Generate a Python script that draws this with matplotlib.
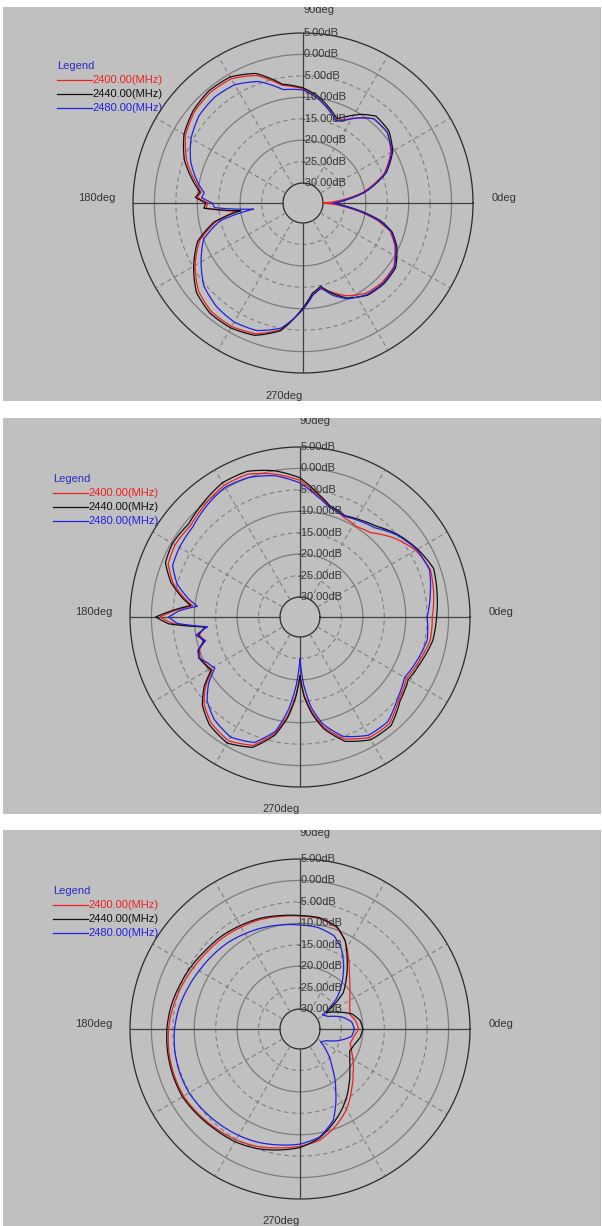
import matplotlib
matplotlib.use("Agg")
import matplotlib.pyplot as plt
import numpy as np

# ---------------------------------------------------------------------------
# Data: gain (dB) vs azimuth (deg), three planes x three frequencies
# ---------------------------------------------------------------------------
freq_labels = ["2400.00(MHz)", "2440.00(MHz)", "2480.00(MHz)"]
ring_levels = [5, 0, -5, -10, -15, -20, -25, -30]
ring_labels = ["5.00dB", "0.00dB", "-5.00dB", "-10.00dB", "-15.00dB",
               "-20.00dB", "-25.00dB", "-30.00dB"]
deg_labels = ["0deg", "90deg", "180deg", "270deg"]

p1_ang = [0, 5, 10, 20, 30, 40, 50, 57, 63, 68, 75, 82, 90, 100, 110, 120,
          130, 140, 150, 160, 170, 174, 177, 180, 183, 187, 192, 200, 210,
          220, 230, 240, 250, 260, 270, 276, 282, 288, 295, 305, 315, 325,
          335, 342, 347, 352, 356]
p1_2400 = [-30, -25, -20.5, -14.5, -11, -9, -9, -11, -12.8, -14, -12, -10,
           -8, -6.8, -3, -1.2, -1, -1.6, -3, -5.8, -9.5, -10.8, -10, -12.5,
           -12, -19, -14, -9, -5.6, -2.8, -1.5, -1.4, -2.2, -4.6, -10.2,
           -13.5, -14.2, -12.8, -10.8, -9, -8.5, -8.8, -11, -13.3, -17, -22,
           -26]
p1_2440 = [-27.5, -24, -20, -14, -10.5, -8.5, -8.2, -10, -12, -13.5, -11.5,
           -9.5, -7.8, -6.5, -2.5, -0.7, -0.5, -1.2, -2.6, -5.2, -9, -10.5,
           -9.5, -12, -11.5, -20, -13.5, -8.5, -5.2, -2.2, -1.0, -1.0, -1.8,
           -4.4, -10.2, -13.5, -14.8, -12.5, -10.2, -8.4, -8.0, -8.3, -10.5,
           -12.8, -16, -21, -25]
p1_2480 = [-27.5, -24, -20, -14.2, -10.8, -9, -9, -11, -13, -14, -12, -10,
           -8.3, -7.8, -4.5, -2.8, -2.5, -3, -4.5, -6.8, -10, -11.5, -11,
           -13.5, -14, -23, -15, -10, -7.2, -4.5, -3.2, -2.6, -3.0, -5.0,
           -9.8, -13, -14.5, -12, -10, -8.6, -8.2, -8.6, -10.8, -13, -16.5,
           -21.5, -25.5]

p2_ang = [0, 10, 20, 30, 40, 50, 58, 66, 75, 82, 90, 100, 110, 120, 130,
          140, 150, 158, 165, 171, 174, 177, 180, 183, 186, 190, 194, 198,
          202, 206, 211, 216, 222, 230, 240, 250, 258, 263, 267, 270, 273,
          277, 282, 290, 300, 310, 320, 330, 340, 350]
p2_2400 = [-3.8, -3, -2.3, -3.5, -6, -9, -9.8, -9.3, -8, -5.8, -2.8, -0.8,
           0.8, 0.8, -0.3, -1.4, -1, -1.5, -4, -7.5, -9.5, -5.5, -2, -5,
           -12.5, -10.8, -11.8, -10, -9.5, -10, -10.8, -7.5, -4.5, -2.4,
           -1.3, -2.8, -7, -11.5, -16.5, -21, -16.5, -12.5, -8.5, -4.4, -2.2,
           -2.2, -4.6, -6, -5, -3.8]
p2_2440 = [-2.8, -2.2, -1.5, -3, -4.8, -7, -8, -8.8, -7.8, -5.5, -2.2, 0,
           1.5, 1.5, 0.3, -0.8, -0.3, -0.8, -3.5, -7, -9, -5, -1, -4, -12.5,
           -10.5, -11.5, -9.8, -9.2, -9.8, -10.5, -7, -4, -1.8, -0.7, -2.3,
           -6.5, -11, -16, -21, -16, -12, -8, -3.8, -1.6, -1.6, -4.2, -5.5,
           -4.5, -3.2]
p2_2480 = [-5, -3.8, -2.5, -3.2, -5, -7.5, -8.3, -9, -8.2, -6.2, -3.4, -1.2,
           0, 0.3, -0.8, -2, -2.2, -2.6, -5, -8.5, -10.6, -6.5, -4, -6, -13,
           -10, -12, -9.6, -9.2, -10.5, -11.5, -8.3, -5.5, -3.5, -2.3, -3.5,
           -7.5, -13, -19, -25, -19, -13.5, -9.2, -5, -2.8, -2.8, -5, -6.5,
           -5.5, -4.5]

p3_ang = [0, 8, 16, 24, 32, 40, 48, 56, 63, 70, 80, 90, 100, 110, 120, 130,
          140, 150, 160, 170, 180, 190, 200, 210, 220, 230, 240, 250, 260,
          270, 280, 290, 300, 310, 320, 328, 336, 344, 352]
p3_2400 = [-21, -21.5, -22.5, -22, -21, -19.5, -17.5, -14.5, -11.5, -9.5,
           -8.5, -8.3, -8, -7.5, -7.2, -6.8, -6.5, -6, -5.3, -4.6, -4, -3.6,
           -3.4, -3.3, -3.8, -4.3, -4.8, -5.5, -6.5, -7.3, -8.3, -10.5, -13,
           -16, -18.5, -20, -21.5, -22.5, -22]
p3_2440 = [-20, -20.5, -22, -25, -27.5, -21.5, -18.5, -15, -11.5, -9.3,
           -8.3, -8.2, -7.8, -7.2, -6.8, -6.3, -6, -5.4, -4.8, -4.1, -3.6,
           -3.3, -3.1, -3, -3.5, -4, -4.3, -5, -6, -7, -8.8, -11.5, -14.2,
           -17, -19.5, -21, -22, -21.5, -20.5]
p3_2480 = [-22, -22.5, -24.5, -27.5, -28.5, -23.5, -20, -16.5, -13.5, -11.5,
           -10.6, -10.4, -10, -9.5, -9, -8.4, -8, -7.5, -6.8, -6, -5.4, -5,
           -4.8, -4.8, -5.2, -5.6, -6, -6.5, -7.2, -7.8, -9, -12, -18, -23,
           -26.5, -29, -28, -25, -22.5]

panels = [
    (p1_ang, [p1_2400, p1_2440, p1_2480]),
    (p2_ang, [p2_2400, p2_2440, p2_2480]),
    (p3_ang, [p3_2400, p3_2440, p3_2480]),
]

# ---------------------------------------------------------------------------
# Layout (pixels, measured from the top-left of the image)
# ---------------------------------------------------------------------------
W, H, DPI = 602, 1226, 100
panel_top = [7, 418, 830]
panel_bot = [401, 814, 1226]
center_x = [303, 300, 300]
center_dy = [196, 199, 199]
legend_x = [57, 53, 53]
legend_dy = [59, 61, 61]
R_PX = 170          # radius of the +5 dB ring
R_MIN = -30 - 20 / (150 / 35)   # value at the very centre (-30 dB ring is 20 px)
R_MAX = 5

BG = "#c0c0c0"
TXT = "#353535"
line_colors = ["#f02020", "#101010", "#2020e0"]
FONT = "Liberation Sans"
FS = 8


def fx(x):
    return x / W


def fy(y):
    return 1 - y / H


fig = plt.figure(figsize=(W / DPI, H / DPI), dpi=DPI, facecolor="white")

for i, (ang, series) in enumerate(panels):
    top, bot = panel_top[i], panel_bot[i]
    cx, cy = center_x[i], top + center_dy[i]

    # grey panel background
    bg = fig.add_axes([fx(3), fy(bot), (601 - 3) / W, (bot - top) / H])
    bg.set_facecolor(BG)
    bg.set_xticks([])
    bg.set_yticks([])
    for s in bg.spines.values():
        s.set_visible(False)
    bg.set_xlim(0, 1)
    bg.set_ylim(0, 1)

    ax = fig.add_axes([fx(cx - R_PX), fy(cy + R_PX), 2 * R_PX / W, 2 * R_PX / H],
                      projection="polar")
    ax.patch.set_alpha(0)
    ax.set_ylim(R_MIN, R_MAX)
    ax.grid(False)
    ax.set_xticks([])
    ax.set_yticks([])
    ax.spines["polar"].set_visible(False)

    # rings
    th = np.linspace(0, 2 * np.pi, 721)
    for lev in ring_levels:
        if lev in (5, -30):
            kw = dict(color="#2a2a2a", lw=0.9, ls="-")
        elif lev % 10 == 0:
            kw = dict(color="#7c7c7c", lw=0.9, ls="-")
        else:
            kw = dict(color="#808080", lw=0.8, ls=(0, (4, 3)))
        ax.plot(th, np.full_like(th, lev), clip_on=False, zorder=1, **kw)

    # spokes
    for a in range(30, 360, 30):
        if a % 90 == 0:
            continue
        t = np.deg2rad(a)
        ax.plot([t, t], [-30, 5], color="#808080", lw=0.8, ls=(0, (4, 3)),
                zorder=1)
    for a in (0, 90, 180, 270):
        t = np.deg2rad(a)
        ax.plot([t, t], [-30, 5], color="#404040", lw=0.9, zorder=1)

    # pattern curves (segments follow the polar grid, like the analyser does)
    for vals, col in zip(series, line_colors):
        t = np.deg2rad(ang + [ang[0] + 360])
        r = list(vals) + [vals[0]]
        ln, = ax.plot(t, r, color=col, lw=0.9, zorder=3, clip_on=False)
        ln.get_path()._interpolation_steps = 24

    # dB labels along the 90deg axis
    for lev, lab in zip(ring_levels, ring_labels):
        off = 1 if lev >= 0 else -2
        ax.annotate(lab, xy=(np.pi / 2, lev), xytext=(off, 0),
                    textcoords="offset pixels", ha="left", va="center",
                    fontsize=FS, family=FONT, color=TXT, zorder=4,
                    annotation_clip=False)

    # degree labels (drawn on the panel so they clip at its border)
    bg.text(fx(cx + R_PX + 19), fy(cy - 5), deg_labels[0], transform=fig.transFigure,
            ha="left", va="center", fontsize=FS, family=FONT, color=TXT)
    bg.text(fx(cx), fy(top + 3), deg_labels[1], transform=fig.transFigure,
            ha="left", va="center", fontsize=FS, family=FONT, color=TXT,
            clip_on=True)
    bg.text(fx(cx - R_PX - 18), fy(cy - 5), deg_labels[2], transform=fig.transFigure,
            ha="right", va="center", fontsize=FS, family=FONT, color=TXT)
    bg.text(fx(cx), fy(bot - 5), deg_labels[3], transform=fig.transFigure,
            ha="right", va="center", fontsize=FS, family=FONT, color=TXT,
            clip_on=True)

    # legend
    lx, ly = legend_x[i], top + legend_dy[i]
    bg.text(fx(lx), fy(ly), "Legend", transform=fig.transFigure, ha="left",
            va="center", fontsize=FS, family=FONT, color="#2a2ac8")
    for k, (lab, col) in enumerate(zip(freq_labels, line_colors)):
        yy = ly + 14 + 14 * k
        bg.plot([fx(lx), fx(lx + 35)], [fy(yy), fy(yy)], color=col, lw=0.9,
                transform=fig.transFigure)
        bg.text(fx(lx + 35), fy(yy), lab, transform=fig.transFigure, ha="left",
                va="center", fontsize=FS, family=FONT, color=col)

fig.savefig("out.png", dpi=DPI, facecolor="white")
